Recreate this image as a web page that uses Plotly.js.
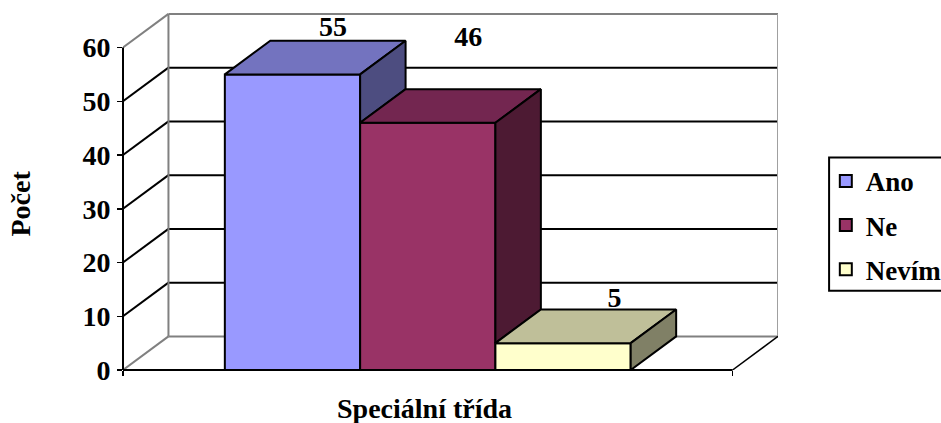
<!DOCTYPE html>
<html>
<head>
<meta charset="utf-8">
<script src="https://cdn.plot.ly/plotly-3.0.1.min.js"></script>
<style>html,body{margin:0;padding:0;background:#fff;overflow:hidden}</style>
</head>
<body>
<div id="chart" style="width:941px;height:423px"></div>
<script>
// Survey answers shown as an Excel-style 3D column chart
const categories = ['Ano', 'Ne', 'Nevím'];
const values = [55, 46, 5];
const frontColors = ['#9999FF', '#993366', '#FFFFCC'];
const topColors = ['#7373BF', '#732650', '#BFBF99'];
const sideColors = ['#4D4D80', '#4D1A33', '#808066'];
const yTicks = [0, 10, 20, 30, 40, 50, 60];

// Oblique projection, in axis units
const depthX = 0.336;
const depthY = 6.25;
const floorStart = -1.2528;
const floorEnd = 3.2528;
const barHalf = 0.5;
// Value labels sit above each column, nudged per column
const labelLift = [8.5, 15.5, 8];
const labelShift = [0.3, 0.3, 0.38];

const FONT = 'Liberation Serif';
const boldFont = (size) => ({family: FONT, size, color: '#000', weight: 700});
const edge = {color: '#000', width: 2};

const traces = [];
categories.forEach((name, i) => {
  traces.push({
    type: 'bar', x: [i], y: [values[i]], width: [1], name,
    legendgroup: name, hoverinfo: 'skip',
    marker: {color: frontColors[i], line: edge}
  });
});

// Depth faces are painted left to right so that each column overlaps the previous side
categories.forEach((name, i) => {
  const v = values[i];
  const xl = i - barHalf, xr = i + barHalf;
  const below = i + 1 < values.length ? values[i + 1] : 0;
  traces.push({
    type: 'scatter', mode: 'lines', fill: 'toself', fillcolor: topColors[i],
    x: [xl, xr, xr + depthX, xl + depthX, xl],
    y: [v, v, v + depthY, v + depthY, v],
    line: edge, showlegend: false, hoverinfo: 'skip'
  });
  traces.push({
    type: 'scatter', mode: 'lines', fill: 'toself', fillcolor: sideColors[i],
    x: [xr, xr + depthX, xr + depthX, xr, xr],
    y: [v, v + depthY, below + depthY, below, v],
    line: edge, showlegend: false, hoverinfo: 'skip'
  });
});

traces.push({
  type: 'scatter', mode: 'text',
  x: categories.map((_, i) => i + labelShift[i]),
  y: values.map((v, i) => v + labelLift[i]),
  text: values.map(String), textposition: 'middle center',
  textfont: boldFont(28), showlegend: false, hoverinfo: 'skip', cliponaxis: false
});

// Chart walls: side wall diagonals plus back wall grid
const GREY = '#808080';
const shapes = [];
const addLine = (x0, y0, x1, y1, color, width, layer) => shapes.push({
  type: 'line', xref: 'x', yref: 'y', x0, y0, x1, y1,
  line: {color, width}, layer: layer || 'below'
});
yTicks.forEach((t) => {
  const outer = t === 0 || t === 60;
  const color = outer ? GREY : '#000';
  addLine(floorStart, t, floorStart + depthX, t + depthY, color, 2);
  addLine(floorStart + depthX, t + depthY, floorEnd + depthX, t + depthY, color, 2);
});
addLine(floorStart + depthX, depthY, floorStart + depthX, 60 + depthY, GREY, 2);
addLine(floorEnd + depthX, depthY, floorEnd + depthX, 60 + depthY, '#A0A0A0', 2);
addLine(floorEnd, 0, floorEnd + depthX, depthY, '#000', 1.5);
// Value axis and floor edge
shapes.push({type: 'line', xref: 'paper', yref: 'y', x0: 0, x1: 0, y0: 0, y1: 60,
  line: {color: '#000', width: 2}, layer: 'above'});
shapes.push({type: 'line', xref: 'x', yref: 'paper', x0: floorStart, x1: floorEnd, y0: 0, y1: 0,
  line: {color: '#000', width: 2}, layer: 'above'});
// Legend frame, open past the right edge of the page
shapes.push({type: 'rect', xref: 'paper', yref: 'paper',
  x0: 1.078, x1: 1.3, y0: 0.22, y1: 0.59,
  line: {color: '#000', width: 2}, fillcolor: 'rgba(0,0,0,0)', layer: 'above'});

const layout = {
  width: 941, height: 423,
  margin: {l: 122.5, r: 163, t: 10, b: 53, pad: 0, autoexpand: false},
  paper_bgcolor: '#fff', plot_bgcolor: 'rgba(0,0,0,0)',
  font: {family: FONT},
  bargap: 0, barmode: 'overlay',
  xaxis: {
    range: [floorStart, floorEnd + depthX], showgrid: false, zeroline: false, showline: false,
    tickmode: 'array', tickvals: [floorStart, floorEnd], ticktext: ['', ''],
    ticks: 'outside', ticklen: 5, tickwidth: 1.5, tickcolor: '#000'
  },
  yaxis: {
    range: [0, 360 / 5.375], showgrid: false, zeroline: false, showline: false,
    tickmode: 'array', tickvals: yTicks, ticktext: yTicks.map(String),
    ticks: 'outside', ticklen: 5, tickwidth: 1.5, tickcolor: '#000',
    ticklabelstandoff: 1, tickfont: boldFont(28)
  },
  showlegend: true,
  legend: {
    x: 1.073, xanchor: 'left', y: 0.592, yanchor: 'top',
    borderwidth: 0, bgcolor: 'rgba(0,0,0,0)',
    font: boldFont(27), traceorder: 'grouped', tracegroupgap: 6,
    itemclick: false, itemdoubleclick: false
  },
  annotations: [
    {text: 'Speciální třída', xref: 'paper', yref: 'paper', x: 0.46, y: -0.108,
     yanchor: 'middle', showarrow: false, font: boldFont(28)},
    {text: 'Počet', xref: 'paper', yref: 'paper', x: -0.157, y: 0.463,
     xanchor: 'center', textangle: -90, yanchor: 'middle', showarrow: false, font: boldFont(28)}
  ],
  shapes
};

Plotly.newPlot('chart', traces, layout, {displayModeBar: false, staticPlot: true});
</script>
</body>
</html>
